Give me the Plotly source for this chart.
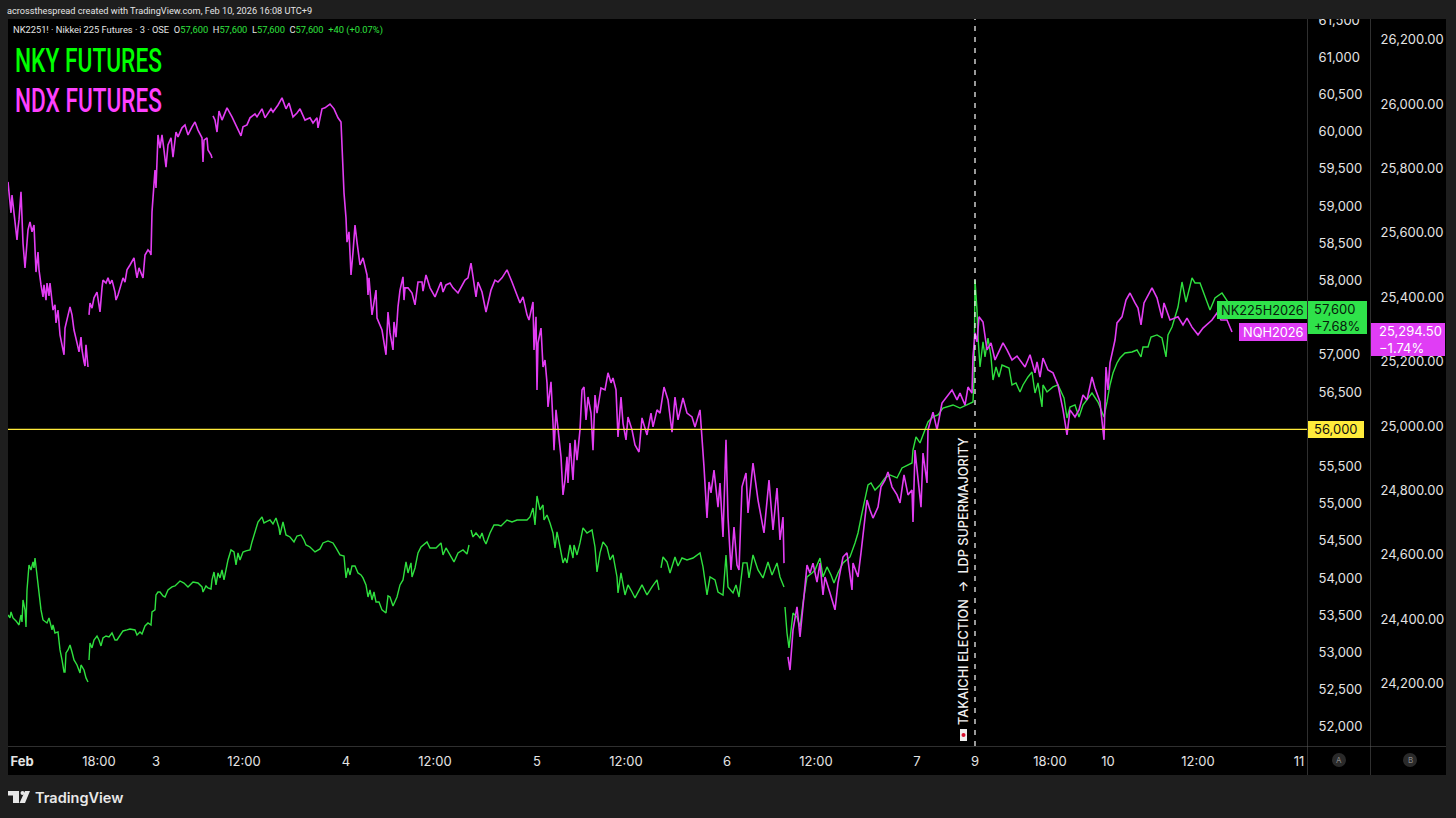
import plotly.graph_objects as go

# Bar position along TradingView's session-compressed time scale, price
nky_session_1 = [(8,53504),(10,53464),(11,53545),(13,53464),(16,53424),(19,53370),(21,53504),(22,53410),(23,53706),(25,53572),(26,53343),(27,53840),(29,54176),(31,54109),(33,54217),(34,54136),(35,54270),(37,54042),(39,53840),(41,53572),(43,53437),(45,53410),(47,53397),(49,53464),(51,53370),(52,53303),(53,53370),(55,53262),(58,53276),(60,53034),(62,52900),(64,52738),(65,52738),(66,52994),(68,53034),(70,53101),(72,53007),(74,52900),(77,52832),(80,52725),(81,52832),(84,52765),(86,52658),(88,52604)]
nky_session_2 = [(89,52900),(90,53128),(92,53061),(94,53168),(97,53222),(99,53168),(101,53088),(103,53195),(106,53222),(109,53209),(112,53262),(115,53168),(117,53168),(120,53222),(123,53289),(127,53303),(130,53316),(135,53303),(137,53236),(140,53276),(142,53249),(145,53357),(148,53397),(151,53370),(152,53545),(155,53572),(156,53773),(158,53813),(160,53813),(163,53760),(165,53746),(168,53840),(172,53881),(175,53894),(180,53961),(184,53934),(188,53881),(193,53948),(198,53934),(202,53881),(203,53813),(206,53894),(208,53868),(211,53854),(212,53975),(214,54082),(216,53908),(218,54069),(220,54002),(222,54109),(224,53975),(226,54109),(228,54244),(231,54378),(234,54351),(236,54176),(238,54338),(240,54244),(243,54351),(246,54365),(250,54378),(252,54486),(255,54620),(258,54754),(262,54822),(264,54741),(266,54754),(270,54781),(273,54727),(276,54808),(279,54674),(280,54580),(283,54754),(286,54580),(290,54553),(294,54486),(297,54566),(301,54580),(304,54512),(306,54445),(310,54418),(315,54351),(320,54392),(323,54472),(328,54499),(333,54472),(336,54405),(340,54311),(344,54297),(346,54002),(348,54136),(350,54042),(352,54163),(355,54163),(358,54069),(361,54042),(363,54002),(366,53908),(368,53746),(370,53840),(372,53706),(374,53813),(376,53679),(379,53679),(382,53572),(386,53531),(388,53760),(390,53746),(393,53625),(397,53746),(400,53908),(403,53975),(406,54217),(408,54069),(411,54204),(412,54015),(415,54136),(418,54338),(421,54418),(427,54486),(430,54405),(436,54405),(441,54472),(443,54311),(446,54405),(450,54311),(454,54217),(458,54338),(463,54378),(467,54324),(469,54445)]
nky_session_3 = [(471,54647),(473,54553),(476,54606),(480,54539),(482,54606),(484,54512),(486,54459),(490,54606),(494,54714),(498,54714),(501,54701),(507,54781),(512,54754),(517,54781),(522,54781),(527,54781),(530,54822),(533,54942),(535,54714),(537,55104),(540,54916),(543,54983),(544,54781),(547,54848),(550,54741),(553,54606),(555,54405),(557,54620),(560,54418),(563,54204),(565,54270),(567,54204),(570,54445),(573,54270),(574,54445),(577,54311),(580,54472),(583,54674),(587,54606),(592,54647),(595,54418),(597,54082),(600,54338),(603,54486),(607,54418),(610,54244),(613,54311),(617,54015),(618,53800),(621,54069),(625,53773),(628,53908),(632,53813),(635,53733),(642,53908),(647,53773),(652,53881),(657,53975),(659,53840)]
nky_session_4 = [(661,54136),(663,54284),(667,54217),(670,54069),(675,54284),(678,54163),(682,54270),(687,54244),(693,54270),(700,54338),(703,54150),(707,53773),(710,54015),(715,53975),(718,53813),(723,53773),(726,54311),(728,53881),(733,53800),(736,53908),(739,53746),(743,54204),(747,54204),(749,54002),(753,54311),(758,54109),(763,54002),(768,54217),(772,54042),(777,54204),(780,54015),(784,53881)]
nky_session_5 = [(785,53612),(787,53262),(789,53061),(793,53531),(797,53477),(800,53343),(803,53666),(807,54015),(812,54069),(815,54109),(820,54270),(823,54015),(827,54150),(831,54042),(834,53934),(838,54069),(843,54204),(850,54284),(855,54472),(858,54606),(862,54875),(865,55050),(868,55252),(871,55278),(875,55184),(880,55252),(885,55346),(890,55386),(897,55346),(902,55480),(908,55520),(912,55547),(913,55722),(916,55897),(920,55816),(925,55991),(928,56098),(933,56166),(938,56192),(943,56286),(953,56327),(960,56286),(967,56327),(973,56367),(974,56663),(975,58007),(977,57604),(978,57241),(980,56838),(983,57174),(985,56972),(988,57227),(991,56972),(993,56663),(996,56838),(999,56703),(1002,56864),(1009,56824),(1012,56596),(1016,56623),(1020,56502),(1023,56596),(1028,56703),(1032,56770),(1035,56488),(1038,56623),(1042,56300),(1043,56596),(1047,56502),(1053,56569),(1058,56596),(1062,56488),(1064,56421),(1067,56152),(1070,56300),(1075,56327),(1079,56166),(1083,56327),(1092,56488),(1098,56367),(1104,56166),(1107,56367),(1110,56596),(1113,56757),(1117,56891),(1120,56958),(1125,57026),(1132,57039),(1137,57066),(1141,56972),(1143,57106),(1148,57106),(1151,57241),(1157,57268),(1162,57227),(1166,56972),(1168,57268),(1172,57375),(1175,57510),(1178,57644),(1182,57980),(1186,57711),(1192,58034),(1195,57967),(1200,57967),(1205,57778),(1210,57604),(1215,57765),(1222,57832),(1228,57711),(1232,57604)]

ndx_session_1 = [(8,25758),(9,25717),(10,25702),(11,25662),(12,25717),(14,25655),(15,25634),(17,25578),(18,25615),(19,25640),(21,25727),(22,25624),(23,25568),(25,25491),(26,25531),(28,25609),(30,25634),(32,25603),(34,25624),(35,25562),(36,25478),(38,25540),(39,25485),(41,25438),(43,25401),(44,25438),(46,25391),(47,25444),(49,25404),(50,25444),(52,25391),(53,25360),(55,25376),(56,25320),(58,25360),(60,25283),(62,25252),(64,25221),(65,25304),(67,25329),(70,25370),(72,25345),(74,25298),(77,25258),(79,25230),(81,25276),(82,25236),(84,25199),(85,25186),(86,25252),(88,25183)]
ndx_session_2 = [(89,25345),(90,25382),(92,25366),(94,25398),(97,25416),(98,25398),(100,25354),(102,25429),(103,25453),(106,25444),(108,25460),(110,25441),(112,25453),(115,25416),(116,25391),(118,25407),(121,25438),(123,25460),(125,25447),(127,25485),(130,25500),(134,25522),(136,25478),(137,25460),(139,25491),(141,25478),(143,25460),(145,25531),(148,25547),(150,25540),(151,25531),(152,25665),(153,25717),(155,25795),(156,25739),(157,25811),(158,25904),(160,25863),(162,25904),(164,25857),(166,25804),(168,25873),(171,25895),(173,25835),(176,25913),(178,25898),(182,25926),(185,25935),(188,25904),(192,25929),(195,25944),(198,25919),(202,25895),(203,25820),(204,25888),(207,25895),(208,25857),(211,25842),(212,25832)]
ndx_session_3 = [(213,25963),(215,25950),(217,25913),(219,25978),(222,25950),(227,25988),(232,25960),(237,25929),(241,25901),(243,25929),(247,25935),(250,25957),(255,25969),(257,25960),(262,25985),(265,25957),(271,25985),(273,25975),(278,25997),(282,26019),(286,25985),(289,26003),(293,25960),(297,25972),(300,25985),(305,25950),(310,25957),(313,25941),(317,25957),(318,25926),(322,25985),(325,25988),(330,26000),(334,25985),(338,25957),(341,25944),(342,25851),(343,25811),(344,25724),(346,25646),(347,25571),(349,25603),(351,25469),(353,25540),(355,25624),(357,25571),(360,25500),(363,25522),(367,25469),(368,25407),(369,25460),(372,25345),(375,25413),(376,25422),(377,25335),(382,25298),(386,25221),(388,25354),(390,25289),(393,25236),(394,25323),(396,25276),(398,25370),(400,25422),(403,25463),(404,25391),(405,25429),(408,25429),(412,25413),(415,25376),(418,25447),(422,25447),(423,25419),(426,25469),(430,25429),(435,25401),(441,25447),(443,25416),(446,25438),(450,25444),(453,25429),(458,25413),(465,25453),(468,25460),(471,25506),(473,25463),(476,25401),(478,25447),(482,25416),(486,25354),(491,25422),(495,25453),(498,25447),(502,25460),(507,25485),(512,25447),(517,25407),(520,25382),(523,25401),(527,25345),(529,25329),(533,25385),(534,25236),(536,25339),(537,25112),(538,25258),(541,25304),(543,25183),(545,25205),(547,25134),(548,25059),(551,25137),(553,25009),(554,24925),(556,25050),(558,24997),(561,24904),(563,24786),(565,24832),(567,24904),(568,24823),(570,24947),(573,24832),(575,24957),(577,24894),(580,24988),(582,25112),(584,25121),(586,25019),(588,25090),(591,25040),(593,24925),(595,25096),(597,25040),(601,25118),(605,25112),(608,25165),(611,25134),(613,25149),(616,25112),(618,24966),(621,25090),(623,25009),(626,24957),(628,25028),(632,24988),(635,24941),(639,24919),(642,25025),(647,24972),(651,25040),(653,24997),(657,25050),(660,25040),(664,25121),(668,25081),(672,24981),(675,25090),(678,25019),(683,25087),(687,25040),(692,25028),(695,24997),(700,25050),(702,24966),(704,24873),(707,24714),(709,24826),(711,24792),(714,24863),(718,24748),(720,24823),(723,24655),(726,24957),(728,24717),(731,24553),(734,24686),(737,24568),(739,24553),(742,24811),(746,24854),(748,24730),(753,24885),(758,24770),(764,24668),(769,24832),(773,24677),(777,24807),(780,24646),(783,24717),(784,24574)]
ndx_session_4 = [(788,24283),(790,24242),(793,24366),(797,24438),(800,24345),(803,24438),(807,24568),(810,24543),(813,24574),(817,24515),(820,24574),(823,24475),(825,24531),(830,24481),(835,24429),(838,24512),(843,24593),(847,24606),(852,24491),(853,24574),(858,24531),(861,24606),(864,24699),(867,24770),(870,24739),(873,24714),(878,24748),(881,24811),(885,24832),(888,24857),(892,24811),(897,24786),(900,24761),(904,24848),(908,24786),(912,24801),(913,24702),(915,24925),(921,24748),(923,24916),(927,24823),(928,24988),(933,25043),(937,24988),(942,25071),(947,25090),(952,25112),(957,25081),(960,25102),(965,25065),(968,25121),(972,25102),(973,25214),(975,25289),(977,25261),(979,25339),(983,25323),(987,25236),(991,25258),(995,25205),(999,25230),(1003,25258),(1007,25236),(1012,25205),(1017,25217),(1025,25183),(1030,25221),(1035,25165),(1037,25199),(1040,25152),(1043,25211),(1048,25174),(1053,25165),(1058,25127),(1061,25081),(1063,25050),(1067,24972),(1070,25050),(1075,25028),(1079,25050),(1083,25096),(1087,25081),(1092,25152),(1095,25118),(1100,25075),(1104,24957),(1106,25183),(1108,25112),(1110,25196),(1113,25236),(1115,25267),(1117,25320),(1122,25339),(1126,25391),(1130,25413),(1135,25382),(1138,25366),(1141,25314),(1144,25382),(1152,25429),(1157,25398),(1162,25335),(1164,25382),(1170,25329),(1178,25339),(1183,25314),(1187,25335),(1192,25307),(1198,25283),(1203,25304),(1212,25329),(1217,25351),(1221,25329),(1227,25329),(1232,25292)]

time_tick_pos = [22, 99, 156, 244, 346, 435, 537, 626, 727, 816, 917, 975, 1050, 1108, 1198, 1299]
time_tick_text = ["<b>Feb</b>", "18:00", "3", "12:00", "4", "12:00", "5", "12:00", "6", "12:00", "7", "9", "18:00", "10", "12:00", "11"]
# 56,000 sits in its own tag and 57,500 behind the NK225 tag
nky_ticks = [52000, 52500, 53000, 53500, 54000, 54500, 55000, 55500, 56500, 57000, 58000, 58500, 59000, 59500, 60000, 60500, 61000, 61500]
ndx_ticks = [24200, 24400, 24600, 24800, 25000, 25200, 25400, 25600, 25800, 26000, 26200]
level = 56000
election_bar = 975

GREEN = "#2fe03f"
MAGENTA = "#e23df2"
BG = "#1e1e1e"
GRID = "#5f5f5f"
TEXT = "#e4e4e4"
FONT = "Inter"
SMALL_FONT = "Roboto"

W, H = 1456, 818


def join_sessions(*sessions):
    xs, ys = [], []
    for session in sessions:
        xs += [p[0] for p in session] + [None]
        ys += [p[1] for p in session] + [None]
    return xs, ys


def px(x):
    return x / W


def py(y):
    return 1 - y / H


def box(x0, y0, x1, y1, color, layer="above", line=None, kind="rect"):
    # rectangle or circle in page pixels, for the panels and price tags
    return dict(type=kind, xref="paper", yref="paper", layer=layer,
                x0=px(x0), x1=px(x1), y0=py(y0), y1=py(y1),
                fillcolor=color, line=dict(width=1 if line else 0, color=line or color))


def label(x, y, text, color=TEXT, size=13, anchor="left", angle=0, family=FONT, weight=None):
    return dict(xref="paper", yref="paper", x=px(x), y=py(y), text=text, showarrow=False,
                xanchor=anchor, yanchor="middle", textangle=angle, align="left",
                font=dict(color=color, size=size, family=family, weight=weight),
                borderpad=0, borderwidth=0)


nky_x, nky_y = join_sessions(nky_session_1, nky_session_2, nky_session_3, nky_session_4, nky_session_5)
ndx_x, ndx_y = join_sessions(ndx_session_1, ndx_session_2, ndx_session_3, ndx_session_4)

fig = go.Figure()
fig.add_trace(go.Scatter(x=ndx_x, y=ndx_y, yaxis="y2", mode="lines",
                         line=dict(color=MAGENTA, width=1.6), hoverinfo="skip"))
fig.add_trace(go.Scatter(x=nky_x, y=nky_y, yaxis="y", mode="lines",
                         line=dict(color=GREEN, width=1.4), hoverinfo="skip"))

shapes = [
    # black chart, scale and time panels
    box(8, 19, 1446, 775, "#000000", layer="below"),
    # header strip hides the half of the top scale label
    box(0, 0, 1456, 19, BG),
    # panel separators
    box(1307, 19, 1307.5, 775, GRID),
    box(1370, 19, 1370.5, 775, GRID),
    box(8, 746, 1446, 746.5, GRID),
    # 56,000 level and election marker
    dict(type="line", xref="paper", yref="y", x0=px(8), x1=px(1307), y0=level, y1=level,
         line=dict(color="#ffeb3b", width=1.3)),
    dict(type="line", xref="x", yref="paper", x0=election_bar, x1=election_bar, y0=py(746), y1=py(19),
         line=dict(color="#ffffff", width=1.2, dash="5px,6px")),
    # price tags
    box(1217, 301, 1307, 319, "#2fe24a"),
    box(1308, 301, 1367, 334, "#2fe24a"),
    box(1239, 323, 1307, 341, "#e03df5"),
    box(1371, 323, 1445, 356, "#e03df5"),
    box(1308, 421, 1364, 438, "#ffeb3b"),
    # scale badges
    box(1332, 753, 1346, 767, "#2a2a2a", kind="circle"),
    box(1403, 753, 1417, 767, "#2a2a2a", kind="circle"),
    # flag before the note
    box(960, 729, 967, 741, "#eeeeee"),
    box(961.5, 733, 965.5, 737, "#d8102e", kind="circle"),
    # TradingView mark
    box(8, 791, 19, 795.5, "#e8e8e8"),
    box(13, 791, 19, 803, "#e8e8e8"),
    box(20.5, 791, 24.5, 795, "#e8e8e8", kind="circle"),
    dict(type="path", xref="paper", yref="paper", layer="above",
         path=f"M {px(25)} {py(791)} L {px(30)} {py(791)} L {px(25)} {py(803)} L {px(19.5)} {py(803)} Z",
         fillcolor="#e8e8e8", line=dict(width=0)),
]

legend_text = (
    "NK2251! · Nikkei 225 Futures · 3 · OSE  "
    f'O<span style="color:{GREEN}">57,600</span>  H<span style="color:{GREEN}">57,600</span>  '
    f'L<span style="color:{GREEN}">57,600</span>  C<span style="color:{GREEN}">57,600</span>  '
    f'<span style="color:{GREEN}">+40 (+0.07%)</span>'
)

annotations = [
    label(7, 10.5, "acrossthespread created with TradingView.com, Feb 10, 2026 16:08 UTC+9", size=9.2, family=SMALL_FONT),
    label(13, 30, legend_text, size=9.3, family=SMALL_FONT),
    label(15, 60, "NKY FUTURES", color="#00ff00", size=33, family=SMALL_FONT, weight=500),
    label(15, 100, "NDX FUTURES", color="#ff40ff", size=33, family=SMALL_FONT, weight=500),
    label(1221, 310, "NK225H2026", color="#06210c", size=12.8),
    label(1337, 317.5, "57,600<br>+7.68%", color="#06210c", size=13, anchor="center"),
    label(1243, 332, "NQH2026", color="#ffffff", size=12.8),
    label(1379, 339.5, "25,294.50<br>−1.74%", color="#ffffff", size=13),
    label(1336, 429.5, "56,000", color="#111111", size=13, anchor="center"),
    label(963.5, 581.5, "TAKAICHI ELECTION  →  LDP SUPERMAJORITY", color="#f2f2f2", size=12.7,
          anchor="center", angle=-90, family=FONT, weight=500),
    label(1339, 760, "A", color="#8a8a8a", size=8, anchor="center"),
    label(1410, 760, "B", color="#8a8a8a", size=8, anchor="center"),
    label(35, 797, "TradingView", color="#e8e8e8", size=14.5, weight=600),
]

fig.update_layout(
    width=W, height=H,
    margin=dict(l=0, r=0, t=0, b=0),
    paper_bgcolor=BG,
    plot_bgcolor="rgba(0,0,0,0)",
    showlegend=False,
    shapes=shapes,
    annotations=annotations,
    xaxis=dict(domain=[px(8), px(1307)], range=[8, 1307], showgrid=False, zeroline=False, automargin=False,
               tickmode="array", tickvals=time_tick_pos, ticktext=time_tick_text,
               ticks="outside", ticklen=3, tickcolor="rgba(0,0,0,0)",
               tickfont=dict(color=TEXT, size=13, family=FONT)),
    yaxis=dict(domain=[py(746), py(19)], range=[51743, 61515], side="right", showgrid=False, zeroline=False,
               automargin=False, tickmode="array", tickvals=nky_ticks, tickformat=",d",
               ticks="outside", ticklen=8, tickcolor="rgba(0,0,0,0)",
               tickfont=dict(color=TEXT, size=13, family=FONT)),
    yaxis2=dict(domain=[py(746), py(19)], range=[24006, 26264], side="right", overlaying="y",
                anchor="free", position=px(1370), showgrid=False, zeroline=False, automargin=False,
                tickmode="array", tickvals=ndx_ticks, tickformat=",.2f",
                ticks="outside", ticklen=7, tickcolor="rgba(0,0,0,0)",
                tickfont=dict(color=TEXT, size=13, family=FONT)),
)

# no condensed face is installed, so squeeze the two big headings to their width
squeeze_titles = """
document.body.style.margin='0';document.body.style.overflow='hidden';
document.querySelectorAll('.annotation-text').forEach(function(t){
  if(t.textContent.indexOf('FUTURES')>=0){
    t.setAttribute('textLength','147');
    t.setAttribute('lengthAdjust','spacingAndGlyphs');
  }
});
"""

fig.write_html("out.html", config=dict(displayModeBar=False), post_script=squeeze_titles)
